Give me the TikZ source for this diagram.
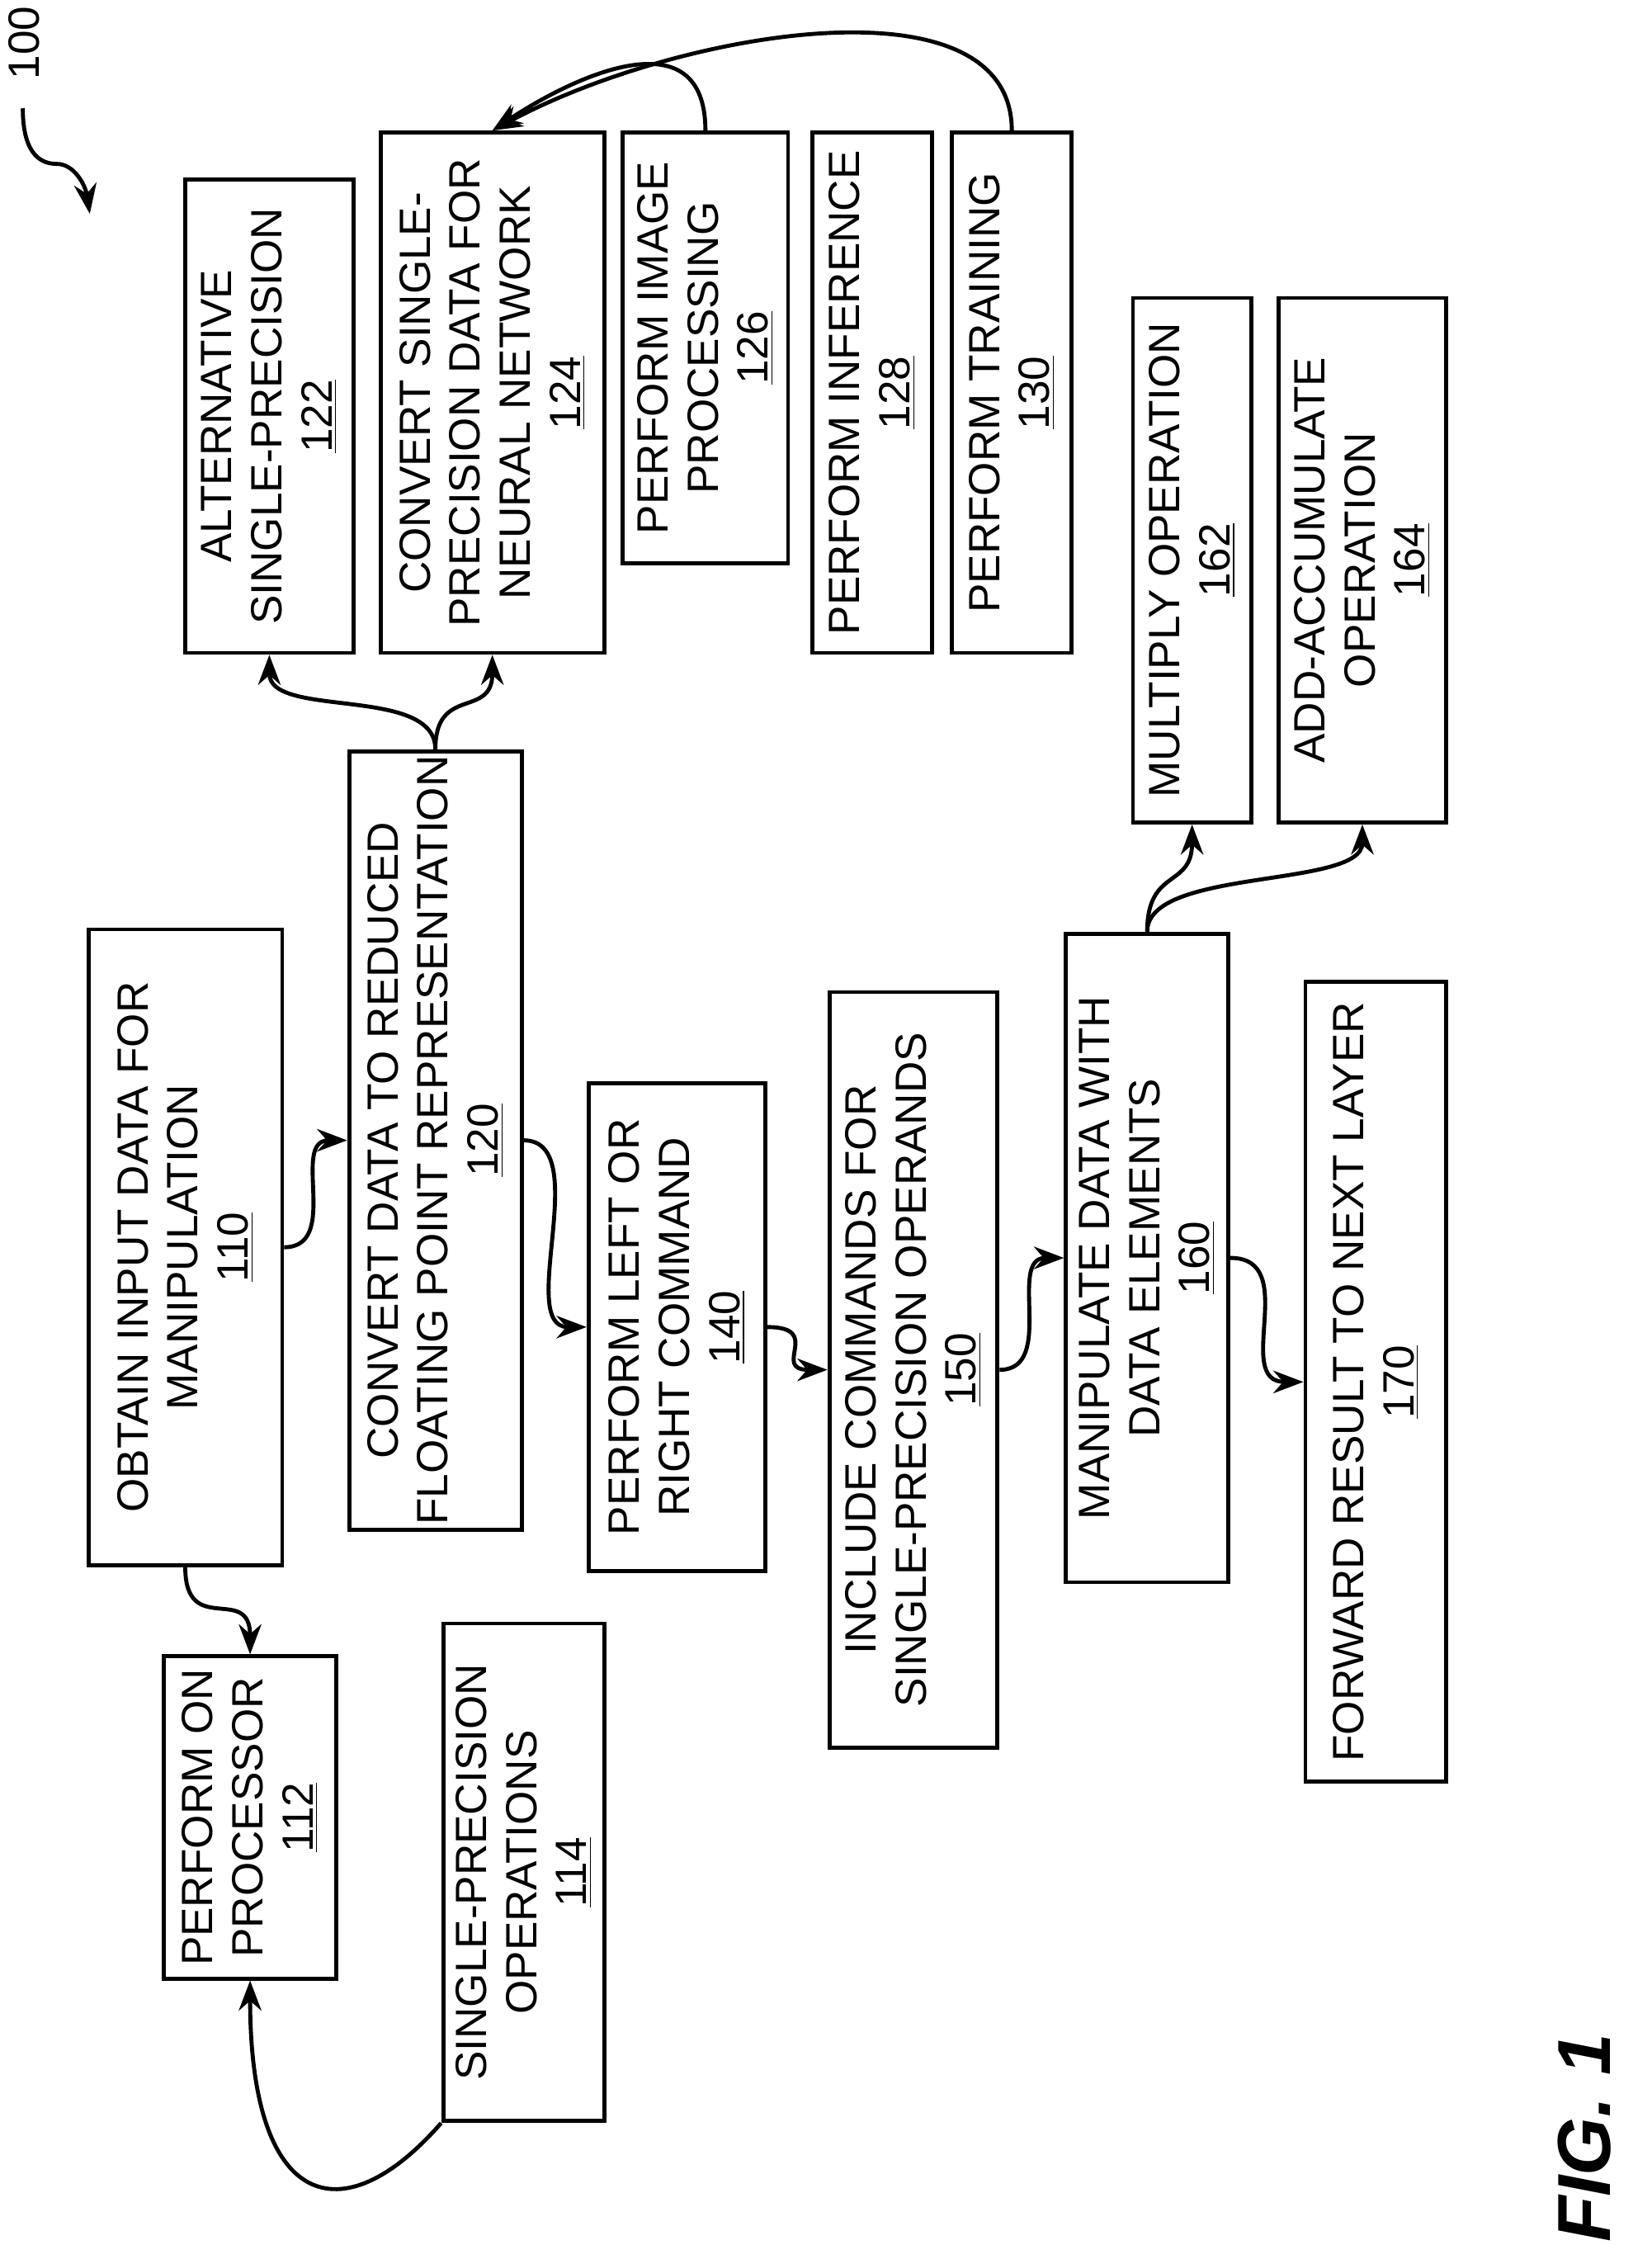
\documentclass[tikz,border=0pt]{standalone}
\usepackage{fontspec}
\setmainfont{Liberation Sans}
\usetikzlibrary{arrows.meta}

\begin{document}
\begin{tikzpicture}[%
        x=0.02cm, y=-0.02cm,
        blk/.style={
            draw,
            line width=1.6pt,
            rotate=90,
            align=center,
            inner sep=0pt,
            font=\fontsize{17.5}{20}\selectfont,
        },
        link/.style={
            line width=1.6pt,
            -{Stealth[length=12pt,width=9pt]},
        },
    ]
    \useasboundingbox (0,0) rectangle (1159,1575);

    % boxes (minimum width runs along the text)
    \node[blk, minimum width=446*0.02cm, minimum height=136*0.02cm] (n110) at (130,875)
        {OBTAIN INPUT DATA FOR\\MANIPULATION\\\underline{110}};
    \node[blk, minimum width=226*0.02cm, minimum height=121*0.02cm] (n112) at (175.5,1275)
        {PERFORM ON\\PROCESSOR\\\underline{112}};
    \node[blk, minimum width=349*0.02cm, minimum height=113*0.02cm] (n114) at (367.5,1313.5)
        {SINGLE-PRECISION\\OPERATIONS\\\underline{114}};
    \node[blk, minimum width=546*0.02cm, minimum height=121*0.02cm] (n120) at (305.5,800)
        {CONVERT DATA TO REDUCED\\FLOATING POINT REPRESENTATION\\\underline{120}};
    \node[blk, minimum width=332*0.02cm, minimum height=118*0.02cm] (n122) at (189,292)
        {ALTERNATIVE\\SINGLE-PRECISION\\\underline{122}};
    \node[blk, minimum width=365*0.02cm, minimum height=157*0.02cm] (n124) at (345.5,275.5)
        {CONVERT SINGLE-\\PRECISION DATA FOR\\NEURAL NETWORK\\\underline{124}};
    \node[blk, minimum width=302*0.02cm, minimum height=116*0.02cm] (n126) at (495,244)
        {PERFORM IMAGE\\PROCESSING\\\underline{126}};
    \node[blk, minimum width=365*0.02cm, minimum height=84*0.02cm] (n128) at (612,275.5)
        {PERFORM INFERENCE\\\underline{128}};
    \node[blk, minimum width=365*0.02cm, minimum height=84*0.02cm] (n130) at (710,275.5)
        {PERFORM TRAINING\\\underline{130}};
    \node[blk, minimum width=342*0.02cm, minimum height=124*0.02cm] (n140) at (475,931)
        {PERFORM LEFT OR\\RIGHT COMMAND\\\underline{140}};
    \node[blk, minimum width=530*0.02cm, minimum height=118*0.02cm] (n150) at (641,961)
        {INCLUDE COMMANDS FOR\\SINGLE-PRECISION OPERANDS\\\underline{150}};
    \node[blk, minimum width=455*0.02cm, minimum height=114*0.02cm] (n160) at (805,882.5)
        {MANIPULATE DATA WITH\\DATA ELEMENTS\\\underline{160}};
    \node[blk, minimum width=368*0.02cm, minimum height=83*0.02cm] (n162) at (836.5,393)
        {MULTIPLY OPERATION\\\underline{162}};
    \node[blk, minimum width=368*0.02cm, minimum height=118*0.02cm] (n164) at (956,393)
        {ADD-ACCUMULATE\\OPERATION\\\underline{164}};
    \node[blk, minimum width=561*0.02cm, minimum height=99*0.02cm] (n170) at (965.5,969.5)
        {FORWARD RESULT TO NEXT LAYER\\\underline{170}};

    % labels
    \node[rotate=90, font=\fontsize{17.5}{20}\selectfont] (ref) at (17,30) {100};
    \node[rotate=90, font=\fontsize{30}{32}\selectfont\bfseries\itshape] (fig) at (1112,1500) {FIG. 1};
    \coordinate (refa) at (16,76);
    \coordinate (refb) at (63,150);

    % connectors
    \draw[link] (refa) .. controls (16,110) and (30,115) .. (40,115)
                       .. controls (52,115) and (60,130) .. (refb);
    \draw[link] (n110.west) .. controls +(0,50) and +(0,-50) .. (n112.east);
    \draw[link] (n114.north west) .. controls +(-70,80) and +(0,160) .. (n112.west);
    \draw[link] (n110.south) .. controls +(40,0) and +(-40,0) .. (n120.north);
    \draw[link] (n120.east) .. controls +(0,-45) and +(0,45) .. (n122.west);
    \draw[link] (n120.east) .. controls +(0,-45) and +(0,45) .. (n124.west);
    \draw[link] (n120.south) .. controls +(50,0) and +(-50,0) .. (n140.north);
    \draw[link] (n140.south) .. controls +(40,0) and +(-40,0) .. (n150.north);
    \draw[link] (n150.south) .. controls +(40,0) and +(-40,0) .. (n160.north);
    \draw[link] (n160.south) .. controls +(50,0) and +(-50,0) .. (n170.north);
    \draw[link] (n160.east) .. controls +(0,-45) and +(0,45) .. (n162.west);
    \draw[link] (n160.east) .. controls +(0,-45) and +(0,45) .. (n164.west);
    \draw[link] (n126.east) .. controls +(0,-80) and +(60,-40) .. (n124.east);
    \draw[link] (n130.east) .. controls +(0,-110) and +(130,-70) .. (n124.east);
\end{tikzpicture}
\end{document}
